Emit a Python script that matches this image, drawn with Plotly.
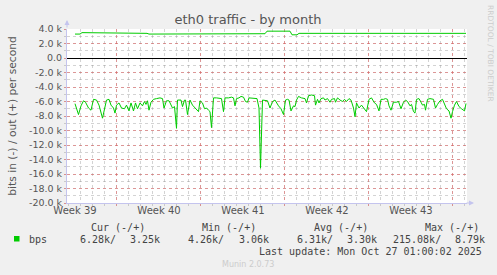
import plotly.graph_objects as go

# ---------------- data ----------------
# time axis: hours since start of the 800-hour (33.3 day) window
in_hours = [16, 23, 28, 33, 37, 43, 48, 53, 59, 64, 71, 75, 79, 84, 88, 93, 96, 99, 104, 109,
            115, 119, 124, 128, 133, 137, 141, 146, 151, 155, 158, 161, 164, 168, 173, 179, 186, 191, 194, 199,
            204, 211, 215, 219, 221, 228, 231, 235, 237, 241, 246, 251, 256, 259, 263, 266, 271, 275, 279, 283,
            286, 289, 293, 299, 306, 309, 313, 316, 323, 329, 333, 336, 339, 344, 348, 353, 357, 361, 364, 371,
            377, 380, 384, 387, 391, 396, 401, 406, 411, 416, 419, 423, 428, 433, 437, 441, 444, 448, 453, 456,
            459, 463, 469, 476, 479, 483, 489, 495, 497, 501, 504, 508, 513, 516, 521, 526, 529, 535, 537, 541,
            546, 551, 555, 559, 564, 568, 573, 576, 579, 584, 589, 595, 599, 604, 609, 615, 619, 624, 628, 633,
            637, 641, 644, 648, 653, 659, 663, 668, 673, 677, 681, 686, 689, 693, 696, 699, 704, 708, 711, 715,
            717, 721, 726, 733, 737, 741, 746, 751, 755, 759, 764, 768, 771, 775, 779, 784, 789, 795, 798]
in_kbps = [6.3, 7.8, 6.6, 5.9, 6.1, 6.9, 7.2, 5.7, 5.8, 6.5, 8.3, 6.9, 5.8, 5.7, 6.5, 6.9, 7.6, 6.5, 6.2, 6.9,
           7.0, 6.5, 7.3, 6.2, 7.3, 6.2, 7.0, 6.2, 6.6, 6.0, 6.4, 5.9, 7.2, 6.1, 5.7, 5.6, 5.5, 5.6, 6.9, 5.9,
           5.9, 6.9, 6.7, 9.7, 5.8, 5.8, 6.7, 5.8, 5.8, 7.8, 5.8, 6.5, 6.9, 7.0, 7.4, 5.9, 6.2, 7.0, 6.9, 7.2,
           7.4, 9.6, 5.5, 5.5, 5.5, 5.6, 7.4, 5.5, 5.5, 5.4, 5.5, 6.6, 5.6, 5.5, 5.3, 5.4, 6.0, 6.1, 5.5, 5.5,
           5.5, 5.6, 6.9, 15.2, 5.8, 5.8, 5.9, 6.9, 6.0, 5.8, 6.2, 6.6, 7.0, 7.8, 5.8, 5.7, 5.8, 7.3, 6.6, 6.7,
           5.8, 5.3, 5.5, 5.6, 6.2, 5.2, 5.1, 5.2, 6.5, 5.7, 6.2, 5.6, 5.5, 5.8, 5.6, 6.1, 5.7, 5.6, 6.1, 5.5,
           5.8, 6.0, 5.7, 6.0, 5.6, 5.8, 6.9, 8.1, 6.2, 6.9, 6.5, 7.0, 7.4, 5.7, 5.5, 6.2, 6.4, 7.3, 5.7, 5.7,
           5.6, 5.7, 6.6, 7.2, 6.1, 6.1, 6.0, 7.0, 6.1, 5.8, 6.0, 6.6, 6.4, 7.4, 7.6, 5.7, 5.6, 6.1, 6.5, 6.4,
           7.2, 5.7, 5.6, 5.7, 6.9, 6.4, 5.9, 5.7, 6.4, 7.0, 7.3, 8.3, 7.4, 6.5, 6.0, 6.7, 7.0, 7.3, 6.28]

out_hours = [16, 26, 30, 58, 62, 132, 134, 136, 160, 164, 180, 184, 200, 204, 208, 226, 230, 250,
             270, 280, 300, 320, 340, 350, 380, 396, 400, 446, 450, 460, 464, 560, 600, 700, 710, 712,
             764, 766, 768, 798]
out_kbps = [3.3, 3.3, 3.5, 3.5, 3.4, 3.4, 3.5, 3.4, 3.4, 3.3, 3.3, 3.35, 3.3, 3.25, 3.3, 3.3, 3.35, 3.3,
            3.3, 3.25, 3.3, 3.3, 3.25, 3.3, 3.3, 3.35, 3.7, 3.7, 3.2, 3.2, 3.4, 3.4, 3.4, 3.4, 3.4, 3.5,
            3.4, 3.5, 3.4, 3.4]

week_bounds = [98, 266, 434, 602, 770]
week_centers = [16, 184, 352, 520, 688]
week_labels = ["Week 39", "Week 40", "Week 41", "Week 42", "Week 43"]

y_ticks = [4000, 2000, 0, -2000, -4000, -6000, -8000, -10000, -12000, -14000, -16000, -18000, -20000]
y_tick_labels = ["4.0 k", "2.0 k", "0.0", "-2.0 k", "-4.0 k", "-6.0 k", "-8.0 k", "-10.0 k",
                 "-12.0 k", "-14.0 k", "-16.0 k", "-18.0 k", "-20.0 k"]

legend_name = "bps"
stat_headers = ["Cur (-/+)", "Min (-/+)", "Avg (-/+)", "Max (-/+)"]
stat_in = ["6.28k/", "4.26k/", "6.31k/", "215.08k/"]
stat_out = ["3.25k", "3.06k", "3.30k", "8.79k"]

GREEN = "#00CC00"
W, H = 497, 275
L, R, T, B = 67, 467, 29, 203


def px(x):
    return (x - L) / (R - L)


def py(y):
    return (B - y) / (B - T)


fig = go.Figure()
fig.add_trace(go.Scatter(x=in_hours, y=[-v * 1000 for v in in_kbps], mode="lines",
                         line=dict(color=GREEN, width=1), hoverinfo="skip", showlegend=False))
fig.add_trace(go.Scatter(x=out_hours, y=[v * 1000 for v in out_kbps], mode="lines",
                         line=dict(color=GREEN, width=1, shape="linear"), hoverinfo="skip", showlegend=False))
# invisible trace to carry the week label axis
fig.add_trace(go.Scatter(x=[week_centers[0]], y=[None], xaxis="x2", mode="lines",
                         hoverinfo="skip", showlegend=False))

AXIS_COL = "#c4c4ee"
RED_GRID = "rgba(230,90,90,0.5)"
GREY_GRID = "rgba(130,130,130,0.35)"

fig.update_layout(
    width=W, height=H,
    margin=dict(l=L, r=W - R, t=T, b=H - B, pad=0),
    paper_bgcolor="#F0F0F0", plot_bgcolor="#FFFFFF",
    font=dict(family="DejaVu Sans", size=10, color="#555555"),
    title=dict(text="eth0 traffic - by month", x=px(248), xref="paper", xanchor="center",
               y=1 - 19 / H, yanchor="middle", font=dict(size=13, color="#555555")),
    xaxis=dict(range=[0, 800], tickmode="array", tickvals=week_bounds, showticklabels=False,
               showgrid=True, gridcolor=RED_GRID, griddash="dot", gridwidth=1,
               ticks="outside", ticklen=2, tickcolor=RED_GRID,
               showline=True, linecolor=AXIS_COL, linewidth=1, zeroline=False,
               minor=dict(tickmode="linear", tick0=2, dtick=24, showgrid=True,
                          gridcolor=GREY_GRID, griddash="dot", gridwidth=1,
                          ticks="outside", ticklen=2, tickcolor=GREY_GRID)),
    xaxis2=dict(range=[0, 800], overlaying="x", anchor="y", side="bottom",
                tickmode="array", tickvals=week_centers, ticktext=week_labels,
                showgrid=False, zeroline=False, showline=False, ticks="",
                tickfont=dict(size=10, color="#555555")),
    yaxis=dict(range=[-20000, 4000], tickmode="array", tickvals=y_ticks, ticktext=y_tick_labels,
               showgrid=True, gridcolor=RED_GRID, griddash="dot", gridwidth=1,
               ticks="outside", ticklen=2, tickcolor=RED_GRID,
               tickfont=dict(size=9.5, color="#555555"),
               showline=True, linecolor=AXIS_COL, linewidth=1,
               zeroline=True, zerolinecolor="#000000", zerolinewidth=1,
               minor=dict(tickmode="linear", tick0=0, dtick=1000, showgrid=True,
                          gridcolor=GREY_GRID, griddash="dot", gridwidth=1,
                          ticks="outside", ticklen=2, tickcolor=GREY_GRID),
               title=dict(text="bits in (-) / out (+) per second", font=dict(size=10.7, color="#555555"),
                          standoff=10)),
)

# axis arrows
fig.add_annotation(x=px(67), y=py(20), xref="paper", yref="paper", text="", showarrow=True,
                   ax=0, ay=9, arrowhead=2, arrowsize=1, arrowwidth=1, arrowcolor=AXIS_COL)
fig.add_annotation(x=px(474), y=py(203), xref="paper", yref="paper", text="", showarrow=True,
                   ax=-9, ay=0, arrowhead=2, arrowsize=1, arrowwidth=1, arrowcolor=AXIS_COL)

MONO = dict(family="DejaVu Sans Mono", size=10, color="#444444")

# legend square and name
fig.add_shape(type="rect", xref="paper", yref="paper", x0=px(14), x1=px(19.5), y0=py(241.5), y1=py(236),
              fillcolor=GREEN, line=dict(width=0))
fig.add_annotation(x=px(27), y=py(239), xref="paper", yref="paper", text=legend_name, showarrow=False,
                   xanchor="left", yanchor="middle", font=MONO)

header_x = [89, 200, 312, 423]
in_x = [78, 186, 295, 391]
out_x = [128, 237, 345, 453]
for hx, h in zip(header_x, stat_headers):
    fig.add_annotation(x=px(hx), y=py(227.5), xref="paper", yref="paper", text=h.replace(" ", "&nbsp;"),
                       showarrow=False, xanchor="left", yanchor="middle", font=MONO)
for ix, v in zip(in_x, stat_in):
    fig.add_annotation(x=px(ix), y=py(239), xref="paper", yref="paper", text=v, showarrow=False,
                       xanchor="left", yanchor="middle", font=MONO)
for ox, v in zip(out_x, stat_out):
    fig.add_annotation(x=px(ox), y=py(239), xref="paper", yref="paper", text=v, showarrow=False,
                       xanchor="left", yanchor="middle", font=MONO)

fig.add_annotation(x=px(484), y=py(251), xref="paper", yref="paper",
                   text="Last&nbsp;update:&nbsp;Mon&nbsp;Oct&nbsp;27&nbsp;01:00:02&nbsp;2025",
                   showarrow=False, xanchor="right", yanchor="middle", font=MONO)
fig.add_annotation(x=px(248), y=py(264), xref="paper", yref="paper", text="Munin 2.0.73",
                   showarrow=False, xanchor="center", yanchor="middle",
                   font=dict(family="DejaVu Sans", size=8, color="#cccccc"))
fig.add_annotation(x=px(491), y=py(53), xref="paper", yref="paper", text="RRDTOOL / TOBI OETIKER",
                   showarrow=False, xanchor="center", yanchor="middle", textangle=90,
                   font=dict(family="DejaVu Sans", size=7.5, color="#cccccc"))

fig.write_html("out.html")
